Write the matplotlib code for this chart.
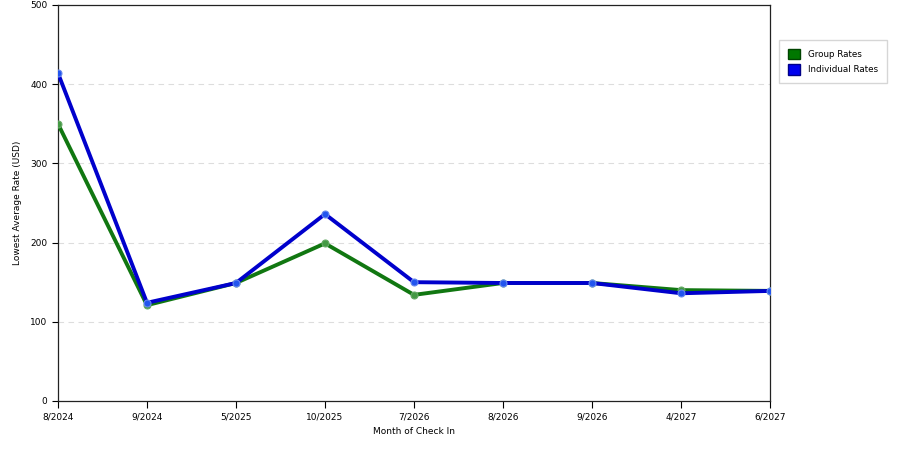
import matplotlib
matplotlib.use("Agg")
import matplotlib.pyplot as plt
from matplotlib.patches import Patch

months = ["8/2024", "9/2024", "5/2025", "10/2025", "7/2026", "8/2026", "9/2026", "4/2027", "6/2027"]
group_rates = [350, 121, 149, 199, 134, 149, 149, 140, 139]
individual_rates = [414, 124, 149, 236, 150, 149, 149, 136, 139]

plt.rcParams["font.family"] = "DejaVu Sans"
fig = plt.figure(figsize=(9, 4.5), dpi=100)
ax = fig.add_axes([0.0644, 0.1089, 0.7912, 0.88])

x = range(len(months))
ax.plot(x, group_rates, color="#117711", lw=2.8, marker="o", ms=5,
        mfc="#449944", mec="#66aa66", mew=0.8, zorder=3)
ax.plot(x, individual_rates, color="#0000cc", lw=2.8, marker="o", ms=5,
        mfc="#2255ee", mec="#6688ee", mew=0.8, zorder=4)

ax.set_xlim(0, len(months) - 1)
ax.set_ylim(0, 500)
ax.set_xticks(list(x))
ax.set_xticklabels(months, fontsize=6.5)
ax.set_yticks([0, 100, 200, 300, 400, 500])
ax.tick_params(axis="y", labelsize=6.5, length=4)
ax.tick_params(axis="x", length=5)
ax.yaxis.grid(True, linestyle=(0, (5, 4)), color="#dddddd", lw=0.8)
ax.set_axisbelow(True)
ax.set_xlabel("Month of Check In", fontsize=6.5, labelpad=4)
ax.set_ylabel("Lowest Average Rate (USD)", fontsize=6.5, labelpad=6)
for s in ax.spines.values():
    s.set_color("#222222")
    s.set_linewidth(0.9)

handles = [Patch(facecolor="#007700", edgecolor="#004400", label="Group Rates"),
           Patch(facecolor="#0000ee", edgecolor="#000088", label="Individual Rates")]
fig.legend(handles=handles, loc="upper left", bbox_to_anchor=(0.866, 0.911),
           borderaxespad=0, fontsize=6.3, frameon=True, fancybox=False,
           edgecolor="#cccccc", handlelength=1.3, handleheight=1.5,
           handletextpad=1.0, borderpad=1.0, labelspacing=0.5)

plt.savefig("out.png", dpi=100)
